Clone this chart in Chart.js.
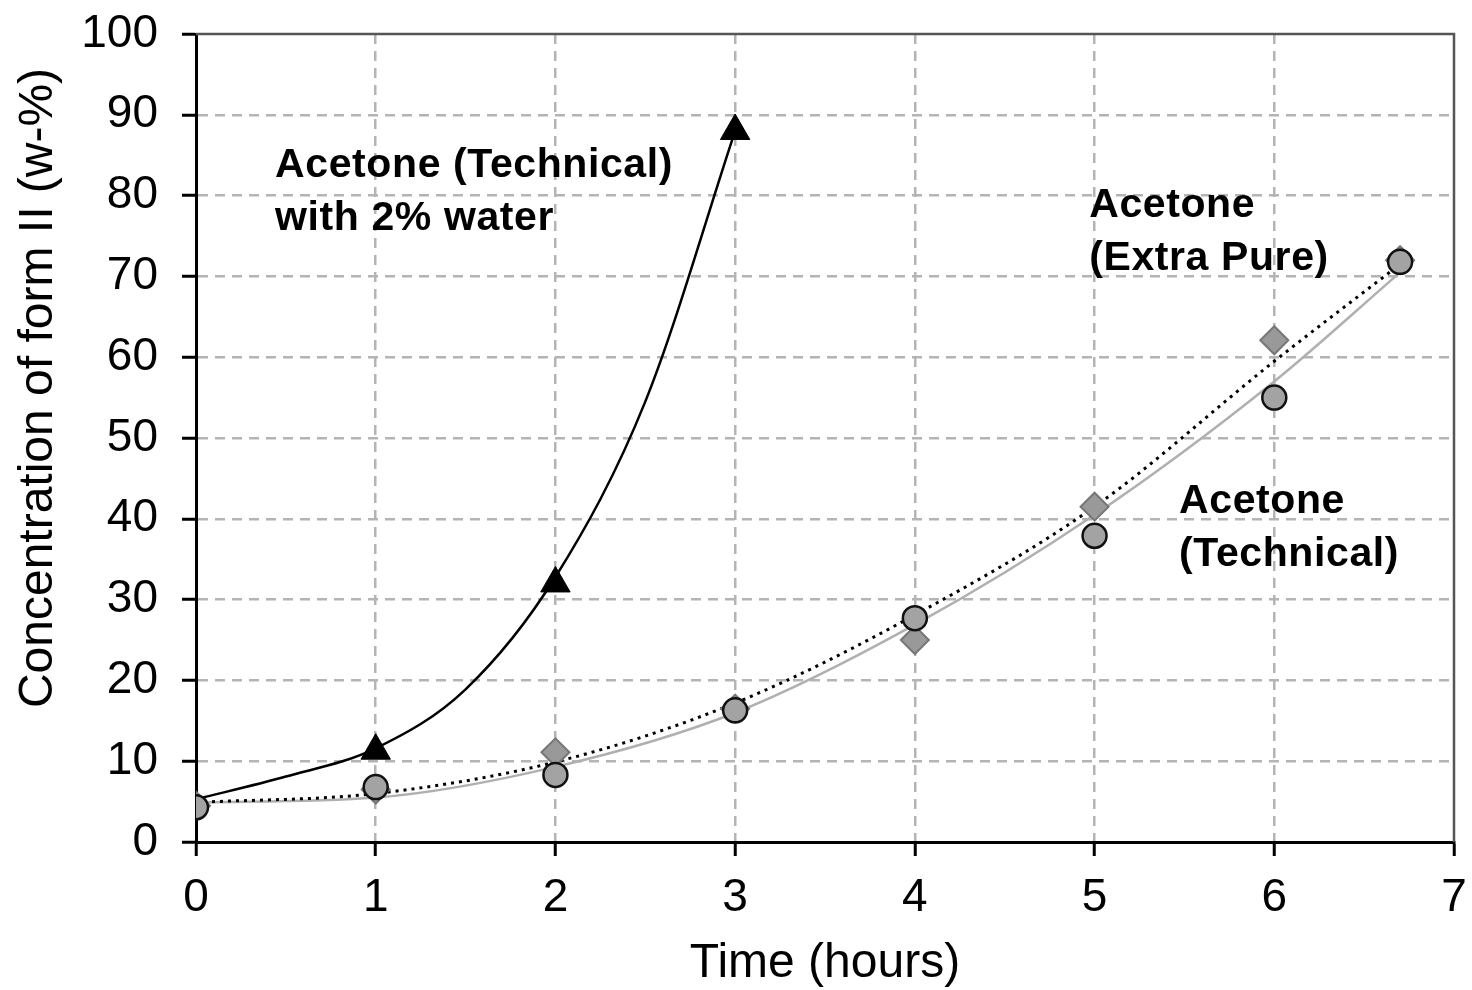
<!DOCTYPE html>
<html><head><meta charset="utf-8">
<script src="https://cdn.jsdelivr.net/npm/chart.js@4.4.1/dist/chart.umd.min.js"></script>
<style>html,body{margin:0;padding:0;background:#fff}#wrap{width:1472px;height:990px}</style>
</head><body><div id="wrap"><canvas id="c" width="1472" height="990"></canvas></div>
<script>
// ---- data ----
const xTicks = [0,1,2,3,4,5,6,7];
const yTicks = [0,10,20,30,40,50,60,70,80,90,100];

const waterTimes = [1,2,3];
const waterVals  = [11.3,32,88];

const techTimes = [0,1,2,3,4,5,6,6.7];
const techVals  = [4.3,6.8,8.3,16.3,27.7,37.9,55,71.8];

const pureTimes = [0,1,2,3,4,5,6,6.7];
const pureVals  = [4.5,6.5,11.1,16.5,25,41.5,62.1,72];

// fitted trend curves
const waterFitTimes = [0,0.5,1,1.5,2,2.5,3];
const waterFitVals  = [5.3,8.1,11.6,18.9,32.8,54.5,88];
const techFitTimes  = [0,1,2,3,4,5,6,6.7];
const techFitVals   = [4.9,5.5,9.3,16,26.9,40.5,57,70.5];
const pureFitTimes  = [0,1,2,3,4,5,6,6.7];
const pureFitVals   = [4.9,6.0,9.9,17.2,28.1,41.5,59.5,71.5];

const labels = [
  {lines:["Acetone (Technical)","with 2% water"], x:0.44, y:82.3},
  {lines:["Acetone","(Extra Pure)"], x:4.97, y:77.4},
  {lines:["Acetone","(Technical)"], x:5.47, y:40.7}
];

const yTitle = 'Concentration of form II (w-%)';

const pts = (xs, ys) => xs.map((x,i)=>({x:x, y:ys[i]}));

const FONT = "'Liberation Sans', Arial, sans-serif";

const annotPlugin = {
  id:'annot',
  afterDatasetsDraw(chart){
    const {ctx, scales:{x,y}} = chart;
    ctx.save();
    ctx.fillStyle = '#000';
    ctx.font = "bold 41px " + FONT;
    if ('letterSpacing' in ctx) ctx.letterSpacing = '0.6px';
    ctx.textAlign = 'left';
    ctx.textBaseline = 'alphabetic';
    labels.forEach(l=>{
      const px = x.getPixelForValue(l.x);
      const py = y.getPixelForValue(l.y);
      l.lines.forEach((t,i)=>ctx.fillText(t, px, py + i*53));
    });
    ctx.restore();
    // y axis title (placed as in the reference, above the axis centre)
    ctx.save();
    ctx.fillStyle = '#000';
    ctx.font = "48px " + FONT;
    ctx.textAlign = 'center';
    ctx.textBaseline = 'middle';
    ctx.translate(39, 388);
    ctx.rotate(-Math.PI/2);
    ctx.fillText(yTitle, 0, 0);
    ctx.restore();
  }
};

const framePlugin = {
  id:'frame',
  beforeDatasetsDraw(chart){
    const {ctx, chartArea:a} = chart;
    ctx.save();
    ctx.strokeStyle = '#555';
    ctx.lineWidth = 2.5;
    ctx.beginPath();
    ctx.moveTo(a.left, a.top);
    ctx.lineTo(a.right, a.top);
    ctx.lineTo(a.right, a.bottom);
    ctx.stroke();
    ctx.restore();
  }
};

new Chart(document.getElementById('c'), {
  type:'scatter',
  data:{datasets:[
    {label:'Water fit', data:pts(waterFitTimes,waterFitVals), showLine:true, pointRadius:0,
     borderColor:'#000', borderWidth:2.5, cubicInterpolationMode:'monotone', order:5},
    {label:'Technical fit', data:pts(techFitTimes,techFitVals), showLine:true, pointRadius:0,
     borderColor:'#b0b0b0', borderWidth:2.5, cubicInterpolationMode:'monotone', order:6},
    {label:'Extra Pure fit', data:pts(pureFitTimes,pureFitVals), showLine:true, pointRadius:0,
     borderColor:'#000', borderWidth:3, borderDash:[3,5], cubicInterpolationMode:'monotone', order:4},
    {label:'Extra Pure', data:pts(pureTimes,pureVals), pointStyle:'rectRot', pointRadius:14,
     backgroundColor:'#999', borderColor:'#777', borderWidth:2, order:3},
    {label:'Technical', data:pts(techTimes,techVals), pointStyle:'circle', pointRadius:12,
     backgroundColor:'#a3a3a3', borderColor:'#111', borderWidth:2.5, order:2},
    {label:'Technical + 2% water', data:pts(waterTimes,waterVals), pointStyle:'triangle', pointRadius:17,
     backgroundColor:'#000', borderColor:'#000', borderWidth:1, order:1}
  ]},
  options:{
    responsive:false, animation:false, devicePixelRatio:1,
    layout:{padding:{top:34,right:14,left:0,bottom:0}},
    plugins:{legend:{display:false}, tooltip:{enabled:false}},
    scales:{
      x:{type:'linear', min:0, max:7,
        afterBuildTicks(s){ s.ticks = xTicks.map(v=>({value:v})); },
        afterFit(s){
          s.height = 148; s.paddingLeft = 0; s.paddingRight = 0;
          if (s._margins) { s._margins.right = 0; s._margins.left = 0; }
        },
        grid:{color:c=> (c.tick && (c.tick.value===0||c.tick.value===7)) ? 'rgba(0,0,0,0)' : '#b4b4b4',
              lineWidth:2.5, tickLength:14, tickColor:'#000', tickWidth:3, tickBorderDash:[]},
        border:{display:true, color:'#000', width:3, dash:[10,7]},
        ticks:{color:'#000', padding:15, font:{family:FONT, size:46}, maxRotation:0},
        title:{display:true, text:'Time (hours)', color:'#000', font:{family:FONT, size:48, lineHeight:1}, padding:{top:0,bottom:2}}
      },
      y:{type:'linear', min:0, max:100,
        afterBuildTicks(s){ s.ticks = yTicks.map(v=>({value:v})); },
        afterFit(s){ s.width = 196; s.paddingTop = 0; s.paddingBottom = 0; },
        grid:{color:c=> (c.tick && (c.tick.value===0||c.tick.value===100)) ? 'rgba(0,0,0,0)' : '#b4b4b4',
              lineWidth:2.5, tickLength:14, tickColor:'#000', tickWidth:3, tickBorderDash:[]},
        border:{display:true, color:'#000', width:3, dash:[10,7]},
        ticks:{color:'#000', padding:24, font:{family:FONT, size:46}},
        title:{display:false}
      }
    }
  },
  plugins:[framePlugin, annotPlugin]
});
</script>
</body></html>
